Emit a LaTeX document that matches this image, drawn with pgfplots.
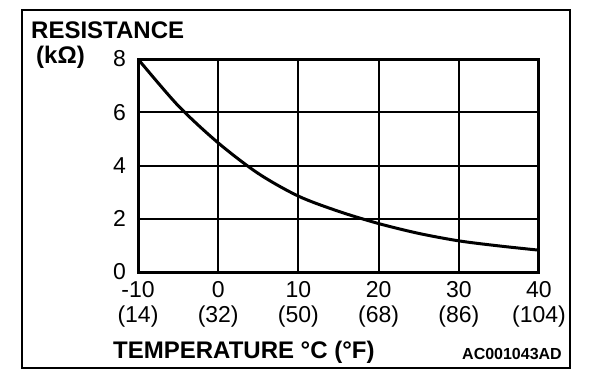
\documentclass[border=0pt]{standalone}
\usepackage{fontspec}
\setmainfont{Liberation Sans}
\usepackage{pgfplots}
\pgfplotsset{compat=1.18}
\begin{document}
\begin{tikzpicture}[x=1pt,y=1pt]
\useasboundingbox (0,0) rectangle (608,384);
\fill[white] (0,0) rectangle (608,384);
\draw[line width=2pt] (22,16) rectangle (570,374);
\begin{axis}[
  at={(138pt,112pt)}, anchor=south west,
  scale only axis, width=401pt, height=213pt,
  xmin=-10, xmax=40, ymin=0, ymax=8,
  xtick={-10,0,10,20,30,40}, ytick={0,2,4,6,8},
  xticklabels={{-10\\(14)},{0\\(32)},{10\\(50)},{20\\(68)},{30\\(86)},{40\\(104)}},
  yticklabels={0,2,4,6,8},
  grid=major, grid style={line width=2pt, black},
  axis line style={line width=3pt},
  major tick length=0pt,
  tick label style={font=\fontsize{23}{25}\selectfont},
  xticklabel style={align=center, inner sep=0pt, yshift=-9pt},
  yticklabel style={inner sep=0pt, xshift=-12pt},
]
\addplot[line width=3pt, smooth, black] coordinates {
(-10,8.0) (-5,6.25) (0,4.85) (5,3.70) (10,2.85) (15,2.28) (20,1.82) (25,1.45) (30,1.17) (35,0.98) (40,0.82)
};
\end{axis}
\node[anchor=base west, inner sep=0pt, font=\fontsize{24}{26}\selectfont\bfseries] at (31,345) {RESISTANCE};
\node[anchor=base west, inner sep=0pt, font=\fontsize{24}{26}\selectfont\bfseries] at (36,321) {(kΩ)};
\node[anchor=base west, inner sep=0pt, font=\fontsize{24}{26}\selectfont\bfseries] at (113,26) {TEMPERATURE °C (°F)};
\node[anchor=base west, inner sep=0pt, font=\fontsize{16}{18}\selectfont\bfseries] at (462,25) {AC001043AD};
\end{tikzpicture}
\end{document}
